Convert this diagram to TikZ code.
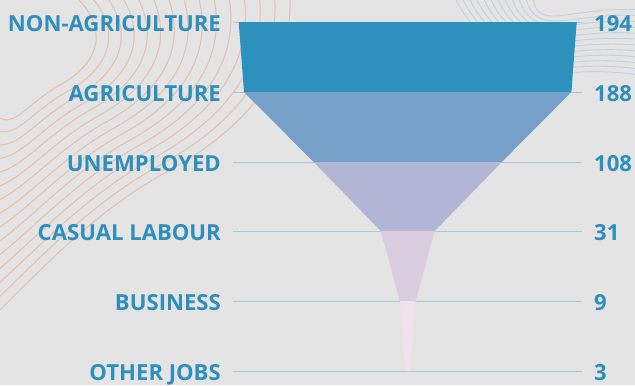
\documentclass[tikz,border=0pt]{standalone}
\usepackage{fontspec}
\newfontfamily\labfont{Open Sans}
\definecolor{bg}{HTML}{E4E4E4}
\definecolor{labc}{HTML}{2E8FBC}
\definecolor{gridc}{HTML}{A9CBD8}
\definecolor{cA}{HTML}{2E90BC}
\definecolor{cB}{HTML}{77A1C8}
\definecolor{cC}{HTML}{B1B6D4}
\definecolor{cD}{HTML}{D9CDDF}
\definecolor{cE}{HTML}{F1E2EC}
\definecolor{orc}{HTML}{E6C0B1}
\definecolor{blc}{HTML}{C4D2DF}
\tikzset{
  lab/.style={anchor=base east,inner sep=0pt,text=labc,font=\labfont\bfseries\fontsize{22.2}{24}\selectfont},
  num/.style={anchor=base west,inner sep=0pt,text=labc,font=\labfont\bfseries\fontsize{22.2}{24}\selectfont},
  gridline/.style={draw=gridc,line width=0.9bp},
  contourA/.style={draw=orc,line width=1bp},
  contourB/.style={draw=blc,line width=0.9bp},
}
\begin{document}
\begin{tikzpicture}[x=1bp,y=-1bp]
\fill[bg] (0,0) rectangle (635,385);
\useasboundingbox (0,0) rectangle (635,385);
\begin{scope}
\clip (0,0) rectangle (635,385);
% decorative contours, top left
\foreach \i in {0,...,14}{
  \pgfmathsetmacro{\t}{\i/14}
  \draw[contourA] ({77+213*\t},-2) .. controls ({105+187*\t},{25+45*\t}) and ({105+145*\t},{60+65*\t}) .. ({60+110*\t},{85+85*\t})
     .. controls ({25+75*\t},{105+103*\t}) and ({15+35*\t},{128+132*\t}) .. (-2,{117+195*\t});
}
% decorative contours, top right
\foreach \i in {0,...,11}{
  \pgfmathsetmacro{\t}{\i/11}
  \draw[contourB] ({533-78*\t},-2) .. controls ({535-55*\t},{15+35*\t}) and ({545-5*\t},{18+57*\t}) .. ({565+15*\t},{15+57*\t})
     .. controls ({590+10*\t},{12+59*\t}) and ({610+10*\t},{8+64*\t}) .. (640,{10+65*\t});
}
\end{scope}
% grid lines
\foreach \n/\y in {1/22,2/92,3/162,4/231,5/301,6/371}{
  \coordinate (L\n) at (233,\y);
  \coordinate (R\n) at (582,\y);
  \draw[gridline] (L\n) -- (R\n);
}
% funnel
\fill[cA] (238.7,22) -- (576.7,22) -- (571.4,92) -- (244.0,92) -- cycle;
\fill[cB] (244.0,92) -- (571.4,92) -- (501.8,162) -- (313.6,162) -- cycle;
\fill[cC] (313.6,162) -- (501.8,162) -- (434.7,231) -- (380.7,231) -- cycle;
\fill[cD] (380.7,231) -- (434.7,231) -- (415.5,301) -- (399.9,301) -- cycle;
\fill[cE] (399.9,301) -- (415.5,301) -- (410.3,371) -- (405.1,371) -- cycle;
% labels
\node[lab] (t1) at (221,31) {NON-AGRICULTURE};
\node[lab] (t2) at (221,101) {AGRICULTURE};
\node[lab] (t3) at (221,171) {UNEMPLOYED};
\node[lab] (t4) at (221,240) {CASUAL LABOUR};
\node[lab] (t5) at (221,310) {BUSINESS};
\node[lab] (t6) at (221,380) {OTHER JOBS};
\node[num] (n1) at (594,31) {194};
\node[num] (n2) at (594,101) {188};
\node[num] (n3) at (594,171) {108};
\node[num] (n4) at (594,240) {31};
\node[num] (n5) at (594,310) {9};
\node[num] (n6) at (594,380) {3};
\end{tikzpicture}
\end{document}
